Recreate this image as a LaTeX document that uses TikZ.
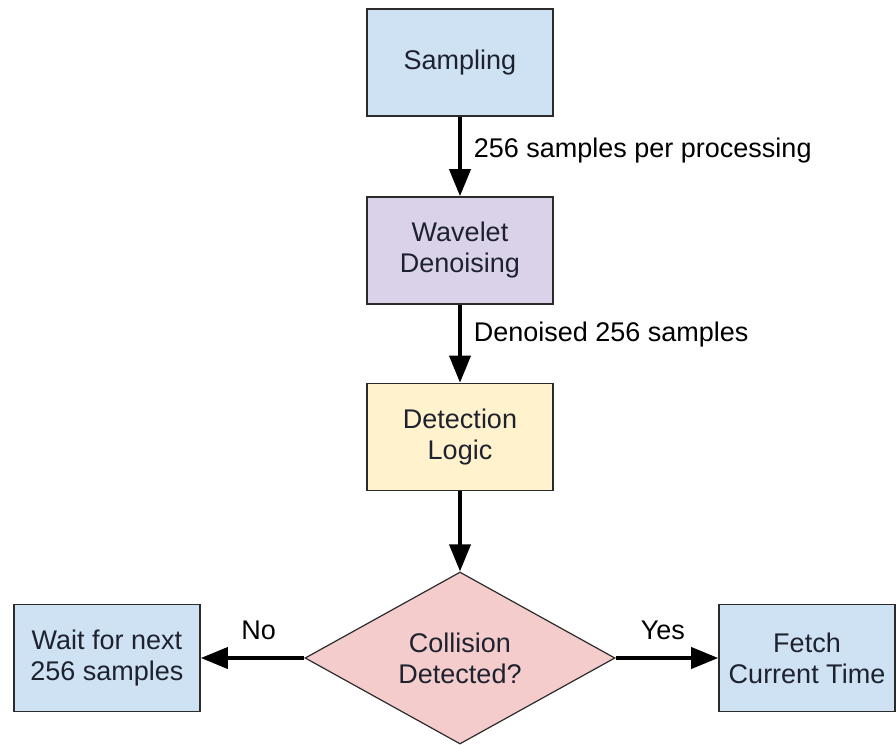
\documentclass[tikz,border=0pt]{standalone}
\usepackage{fontspec}
\setmainfont{Liberation Sans}
\usetikzlibrary{shapes.geometric,arrows.meta}
\definecolor{bluefill}{HTML}{CFE2F3}
\definecolor{purplefill}{HTML}{D9D2E9}
\definecolor{yellowfill}{HTML}{FFF2CC}
\definecolor{redfill}{HTML}{F4CCCC}
\definecolor{edge}{HTML}{2B2B2B}
\definecolor{txt}{HTML}{1E2230}
\tikzset{
  box/.style={draw=edge, line width=1.6pt, minimum width=186pt, minimum height=107pt,
    inner sep=0pt, align=center, font=\fontsize{27}{31}\selectfont, text=txt},
  decision/.style={diamond, draw=edge, line width=1.2pt, fill=redfill, minimum width=310pt,
    minimum height=172pt, inner sep=0pt, aspect=1.8, align=center,
    font=\fontsize{27}{31}\selectfont, text=txt},
  conn/.style={line width=3.8pt, -{Triangle[length=27pt,width=21pt]}},
  lbl/.style={font=\fontsize{27}{31}\selectfont, text=black, inner sep=0pt}
}
\begin{document}
\begin{tikzpicture}[x=1pt,y=-1pt]
\useasboundingbox (0,0) rectangle (896,744);
\node[box, fill=bluefill] (samp) at (460,62.5) {Sampling};
\node[box, fill=purplefill] (wave) at (460,250.5) {Wavelet\\Denoising};
\node[box, fill=yellowfill] (det) at (460,437) {Detection\\Logic};
\node[decision] (coll) at (460,658) {Collision\\Detected?};
\node[box, fill=bluefill] (wait) at (107,658) {Wait for next\\256 samples};
\node[box, fill=bluefill, minimum width=176pt] (fetch) at (807,658) {Fetch\\Current Time};
\draw[conn] (samp.south) -- (wave.north) node[lbl, pos=0.42, right=12pt] {256 samples per processing};
\draw[conn] (wave.south) -- (det.north) node[lbl, pos=0.38, right=12pt] {Denoised 256 samples};
\draw[conn] (det.south) -- (coll.north);
\draw[conn] (coll.west) -- (wait.east) node[lbl, midway, above=16pt, xshift=6pt] {No};
\draw[conn] (coll.east) -- (fetch.west) node[lbl, midway, above=16pt, xshift=-4pt] {Yes};
\end{tikzpicture}
\end{document}
